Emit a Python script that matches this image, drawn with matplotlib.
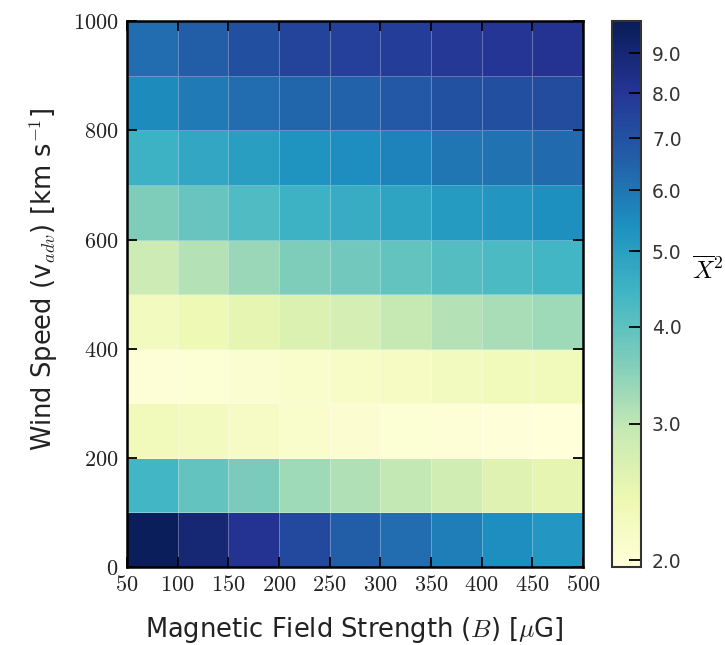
import numpy as np
import matplotlib
matplotlib.use("Agg")
from matplotlib import pyplot as plt
from matplotlib.colors import LogNorm
from matplotlib.ticker import FixedLocator, FormatStrFormatter

plt.rcParams['mathtext.fontset'] = 'cm'
plt.rcParams['font.family'] = ['DejaVu Sans']

# grid edges
b_edges = [50, 100, 150, 200, 250, 300, 350, 400, 450, 500]
v_edges = [0, 100, 200, 300, 400, 500, 600, 700, 800, 900, 1000]

# mean chi^2, rows = wind speed bins (0-100 first), columns = B bins
row_0 = [9.8, 9.0, 8.1, 7.3, 6.6, 6.2, 5.8, 5.45, 5.2]
row_100 = [4.4, 3.95, 3.65, 3.3, 3.15, 2.97, 2.8, 2.6, 2.5]
row_200 = [2.3, 2.25, 2.18, 2.1, 2.06, 2.03, 2.0, 1.98, 1.97]
row_300 = [2.0, 2.03, 2.07, 2.1, 2.15, 2.2, 2.25, 2.3, 2.3]
row_400 = [2.25, 2.35, 2.5, 2.65, 2.75, 2.95, 3.1, 3.2, 3.3]
row_500 = [2.85, 3.1, 3.35, 3.6, 3.75, 3.95, 4.15, 4.25, 4.4]
row_600 = [3.6, 3.9, 4.2, 4.5, 4.65, 4.85, 5.1, 5.25, 5.4]
row_700 = [4.5, 4.8, 5.0, 5.3, 5.45, 5.7, 6.0, 6.1, 6.3]
row_800 = [5.5, 5.9, 6.2, 6.4, 6.5, 6.8, 7.0, 7.1, 7.2]
row_900 = [6.2, 6.6, 7.1, 7.5, 7.6, 7.7, 7.9, 8.0, 8.1]

chi2 = np.array([row_0, row_100, row_200, row_300, row_400,
                 row_500, row_600, row_700, row_800, row_900])

cbar_ticks = [2, 3, 4, 5, 6, 7, 8, 9]

fig = plt.figure(figsize=(7.25, 6.45), dpi=100)
ax = fig.add_axes([0.175, 0.121, 0.629, 0.846])
cax = fig.add_axes([0.844, 0.121, 0.040, 0.846])

mesh = ax.pcolormesh(b_edges, v_edges, chi2, cmap='YlGnBu',
                     norm=LogNorm(vmin=1.96, vmax=9.9),
                     edgecolors=(1, 1, 1, 0.3), linewidth=0.6)

ax.set_xlim(50, 500)
ax.set_ylim(0, 1000)
ax.set_xticks(b_edges)
ax.set_yticks([0, 200, 400, 600, 800, 1000])
ax.xaxis.set_major_formatter(FormatStrFormatter(r'$%d$'))
ax.yaxis.set_major_formatter(FormatStrFormatter(r'$%d$'))
ax.tick_params(direction='in', top=True, right=True, length=7, width=1.3,
               labelsize=16, pad=6, labelcolor='#222222')
for s in ax.spines.values():
    s.set_linewidth(1.8)

ax.set_xlabel(r'Magnetic Field Strength ($B$) [$\mu$G]', fontsize=18.5,
              color='#222222')
ax.xaxis.set_label_coords(0.5, -0.088)
ax.set_ylabel(r'Wind Speed (v$_{adv}$) [km s$^{-1}$]', fontsize=18.5,
              color='#222222')
ax.yaxis.set_label_coords(-0.147, 0.527)

cbar = fig.colorbar(mesh, cax=cax)
cbar.ax.yaxis.set_major_locator(FixedLocator(cbar_ticks))
cbar.ax.yaxis.set_minor_locator(FixedLocator([]))
cbar.ax.yaxis.set_major_formatter(FormatStrFormatter('%.1f'))
cbar.ax.tick_params(direction='in', length=9, width=1.3, labelsize=13.5,
                    pad=8, colors='black', labelcolor='#333333')
cbar.outline.set_linewidth(1.5)
cbar.outline.set_edgecolor('#333333')
cbar.set_label(r'$\overline{X}^2$', rotation=0, fontsize=18)
cbar.ax.yaxis.set_label_coords(3.3, 0.57)

fig.savefig('out.png', dpi=100)
